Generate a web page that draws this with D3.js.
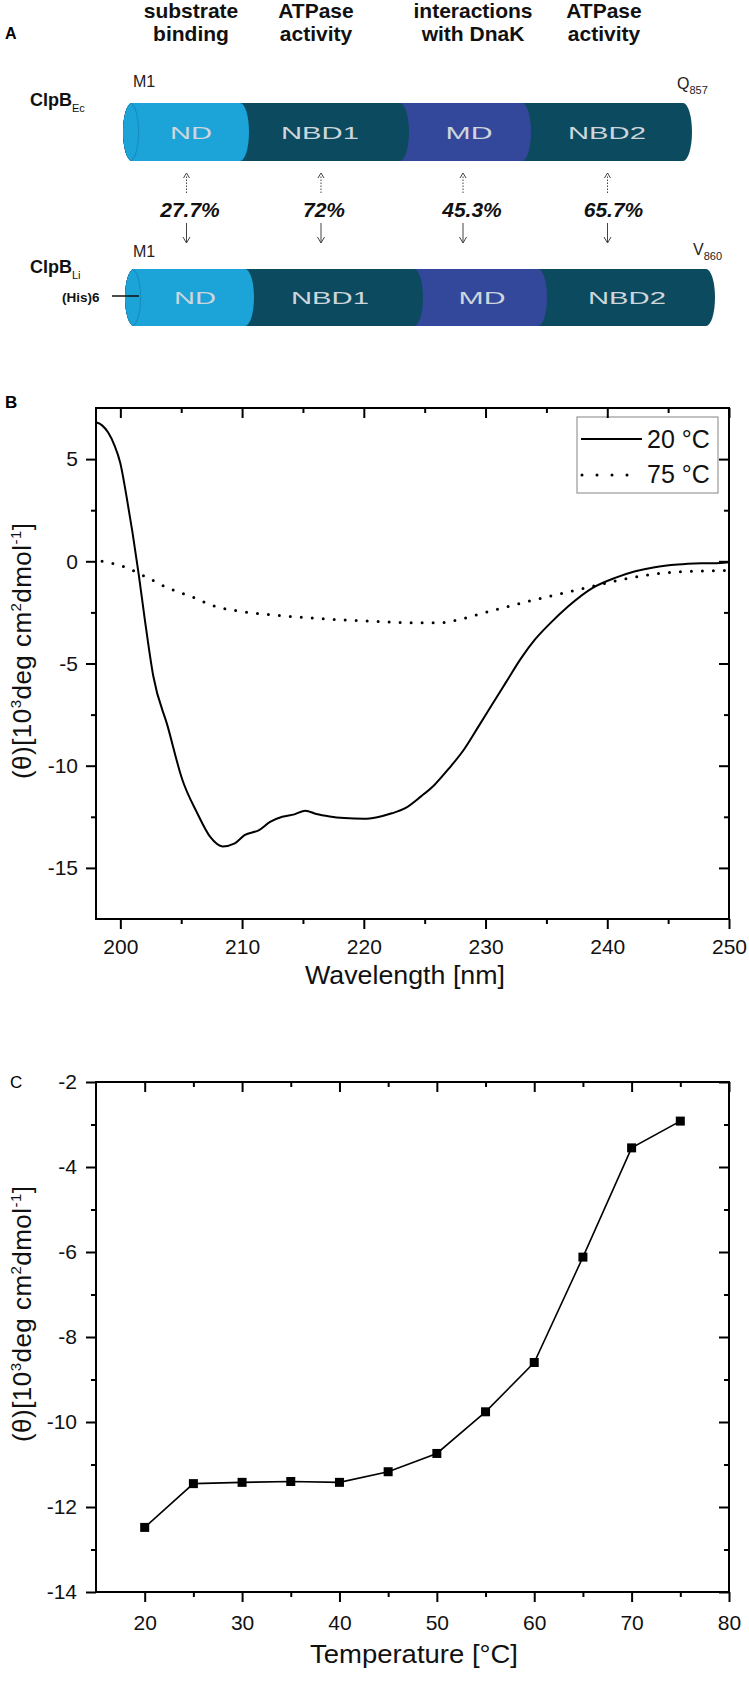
<!DOCTYPE html>
<html><head><meta charset="utf-8">
<script src="https://cdn.jsdelivr.net/npm/d3@7"></script>
<style>
body{margin:0;background:#fff}
svg{display:block}
text{font-family:"Liberation Sans",Arial,Helvetica,sans-serif}
</style>
</head><body>
<svg id="c" width="749" height="1684"></svg>
<script>
// ---------------- data ----------------
const functionLines = [["substrate","binding"],["ATPase","activity"],["interactions","with DnaK"],["ATPase","activity"]];
const domains = ["ND","NBD1","MD","NBD2"];
const identity = ["27.7%","72%","45.3%","65.7%"];
const proteinNames = ["ClpB","ClpB"];
const proteinSubs = ["Ec","Li"];
const startRes = ["M1","M1"];
const endRes = ["Q","V"];
const endNum = ["857","860"];
const tagLabel = "(His)6";

const wavelength20 = [198.0,198.5,199.0,199.5,200.0,200.5,201.0,201.5,202.0,202.7,203.9,205.1,206.3,207.4,208.4,209.4,210.2,211.4,212.3,213.3,214.3,215.2,216.1,217.2,218.4,220.0,221.1,222.3,223.4,224.7,225.8,227.0,228.2,229.4,230.5,231.7,232.9,234.1,235.2,236.8,238.8,240.7,242.3,243.9,245.8,247.8,249.3,250.0];
const theta20 = [6.8,6.65,6.3,5.7,4.8,3.2,1.4,-0.6,-2.8,-5.6,-8.1,-10.7,-12.3,-13.5,-13.95,-13.8,-13.4,-13.15,-12.75,-12.5,-12.38,-12.2,-12.36,-12.48,-12.56,-12.6,-12.52,-12.33,-12.08,-11.5,-10.94,-10.13,-9.23,-8.1,-7.04,-5.9,-4.76,-3.8,-3.1,-2.2,-1.3,-0.8,-0.49,-0.29,-0.16,-0.1,-0.08,-0.05];
const wavelength75 = [198.5,200.0,202.0,203.9,205.9,207.8,209.8,212.1,214.5,217.6,220.8,223.9,226.2,227.8,229.4,231.7,234.1,236.4,238.8,241.1,243.5,245.8,248.9,250.0];
const theta75 = [0.0,-0.2,-0.73,-1.3,-1.74,-2.2,-2.44,-2.6,-2.72,-2.85,-2.93,-3.01,-3.01,-2.85,-2.6,-2.23,-1.87,-1.55,-1.22,-0.9,-0.65,-0.52,-0.46,-0.44];
const seriesLabels = ["20 °C","75 °C"];

const temperature = [20,25,30,35,40,45,50,55,60,65,70,75];
const thetaT = [-12.48,-11.45,-11.42,-11.40,-11.42,-11.17,-10.74,-9.76,-8.60,-6.12,-3.55,-2.92];

const xTicksB = [200,210,220,230,240,250];
const xMinorB = [205,215,225,235,245];
const yTicksB = [5,0,-5,-10,-15];
const yMinorB = [2.5,-2.5,-7.5,-12.5];
const xTicksC = [20,30,40,50,60,70,80];
const xMinorC = [25,35,45,55,65,75];
const yTicksC = [-2,-4,-6,-8,-10,-12,-14];
const yMinorC = [-3,-5,-7,-9,-11,-13];

// ---------------- layout ----------------
const FONT = '"Liberation Sans",Arial,Helvetica,sans-serif';
const svg = d3.select("#c");
const darkC = "#0c4a5f", lightC = "#1ca3d8", midC = "#34489b";
const domainColors = [lightC, darkC, midC, darkC];

// ---- Panel A ----
svg.append("text").attr("x",5).attr("y",39).attr("font-size",16).attr("font-weight","bold").text("A");

const headerX = [191,316,473,604];
functionLines.forEach((lines,i)=>{
  const t = svg.append("text").attr("text-anchor","middle").attr("font-size",21).attr("font-weight","bold").attr("fill","#111");
  lines.forEach((ln,j)=>t.append("tspan").attr("x",headerX[i]).attr("y",18+j*23).text(ln));
});

function cylinder(left, right, bounds, top, bot, labelX, labelW) {
  const rx = 9, ry = (bot-top)/2;
  const edges = [left, ...bounds, right];
  const g = svg.append("g");
  for (let i = domains.length-1; i >= 0; i--) {
    const xe = edges[i+1];
    const p = `M${left},${top} L${xe},${top} A${rx},${ry} 0 0 1 ${xe},${bot} L${left},${bot} A${rx},${ry} 0 0 1 ${left},${top} Z`;
    g.append("path").attr("d",p).attr("fill",domainColors[i]);
  }
  g.append("path").attr("d",`M${left},${top+1} A${rx},${ry} 0 0 1 ${left},${bot-1}`)
    .attr("fill","none").attr("stroke","#168fbf").attr("stroke-width",1.2);
  domains.forEach((d,i)=>{
    g.append("text").attr("x",labelX[i]).attr("y",(top+bot)/2+6.5).attr("text-anchor","middle")
      .attr("font-size",17).attr("fill","#cdd6dc")
      .attr("textLength",labelW[i]).attr("lengthAdjust","spacingAndGlyphs").text(d);
  });
}
const labelW = [42,78,47,78];
cylinder(132, 683, [240,400,522], 103, 161, [191,320,469,607], labelW);
cylinder(134, 706, [245,414,538], 269, 326, [195,330,482,627], labelW);

// protein labels
[[106,113],[273,279]].forEach((yy,i)=>{
  const t = svg.append("text").attr("x",30).attr("y",yy[0]).attr("font-size",18).attr("font-weight","bold").attr("fill","#111");
  t.append("tspan").text(proteinNames[i]);
  t.append("tspan").attr("dy",6).attr("font-size",11).attr("font-weight","normal").text(proteinSubs[i]);
});
[87,257].forEach((yy,i)=>{
  svg.append("text").attr("x",133).attr("y",yy).attr("font-size",16).attr("fill","#222").text(startRes[i]);
});
[[677,89],[693,255]].forEach((p,i)=>{
  const t = svg.append("text").attr("x",p[0]).attr("y",p[1]).attr("font-size",16).attr("fill","#222");
  t.append("tspan").text(endRes[i]);
  t.append("tspan").attr("dy",5).attr("font-size",11).text(endNum[i]);
});
svg.append("text").attr("x",62).attr("y",302).attr("font-size",13.5).attr("font-weight","bold").attr("fill","#111").text(tagLabel);
svg.append("line").attr("x1",112).attr("x2",139).attr("y1",296).attr("y2",296).attr("stroke","#111").attr("stroke-width",1.5);

// identity arrows and values
const arrowX = [186.5,321,463,607.5];
const pctX = [190,324,472,613.5];
identity.forEach((v,i)=>{
  const x = arrowX[i];
  svg.append("line").attr("x1",x).attr("x2",x).attr("y1",193).attr("y2",175)
    .attr("stroke","#444").attr("stroke-width",1).attr("stroke-dasharray","1.5,1.5");
  svg.append("path").attr("d",`M${x-3},178 L${x},173 L${x+3},178`).attr("fill","none").attr("stroke","#444").attr("stroke-width",1);
  svg.append("line").attr("x1",x).attr("x2",x).attr("y1",223).attr("y2",243).attr("stroke","#444").attr("stroke-width",1);
  svg.append("path").attr("d",`M${x-3.5},237 L${x},243 L${x+3.5},237`).attr("fill","none").attr("stroke","#444").attr("stroke-width",1);
  svg.append("text").attr("x",pctX[i]).attr("y",217).attr("text-anchor","middle").attr("font-size",21)
    .attr("font-weight","bold").attr("font-style","italic").attr("fill","#111").text(v);
});

// ---------------- axes helper ----------------
function styleAx(s){
  s.attr("font-family",FONT).attr("font-size",21);
  s.select(".domain").remove();
  s.selectAll("line").attr("stroke","#000").attr("stroke-width",2);
  s.selectAll("text").attr("fill","#111");
}
function frameAxes(x, y, xMaj, xMin, yMaj, yMin, padB, padL) {
  const [x0,x1] = x.range(); const [y0,y1] = y.range();
  const fmt = d => String(d);
  const g = svg.append("g");
  g.append("g").attr("transform",`translate(0,${y0})`).call(d3.axisBottom(x).tickValues(xMaj).tickSize(10).tickPadding(padB).tickFormat(fmt)).call(styleAx);
  g.append("g").attr("transform",`translate(0,${y0})`).call(d3.axisBottom(x).tickValues(xMin).tickSize(5).tickFormat("")).call(styleAx);
  g.append("g").attr("transform",`translate(0,${y1})`).call(d3.axisBottom(x).tickValues(xMaj).tickSize(10).tickFormat("")).call(styleAx);
  g.append("g").attr("transform",`translate(0,${y1})`).call(d3.axisBottom(x).tickValues(xMin).tickSize(5).tickFormat("")).call(styleAx);
  g.append("g").attr("transform",`translate(${x0},0)`).call(d3.axisLeft(y).tickValues(yMaj).tickSize(10).tickPadding(padL).tickFormat(fmt)).call(styleAx);
  g.append("g").attr("transform",`translate(${x0},0)`).call(d3.axisLeft(y).tickValues(yMin).tickSize(5).tickFormat("")).call(styleAx);
  g.append("g").attr("transform",`translate(${x1},0)`).call(d3.axisLeft(y).tickValues(yMaj).tickSize(10).tickFormat("")).call(styleAx);
  g.append("g").attr("transform",`translate(${x1},0)`).call(d3.axisLeft(y).tickValues(yMin).tickSize(5).tickFormat("")).call(styleAx);
  g.append("rect").attr("x",x0).attr("y",y1).attr("width",x1-x0).attr("height",y0-y1)
    .attr("fill","none").attr("stroke","#000").attr("stroke-width",2);
}
function yTitle(bx, cy){
  const t = svg.append("text").attr("transform",`translate(${bx},${cy}) rotate(-90)`)
    .attr("text-anchor","middle").attr("font-size",26).attr("fill","#111")
    .attr("textLength",256).attr("lengthAdjust","spacing");
  t.append("tspan").text("(θ)[10");
  t.append("tspan").attr("dy",-10).attr("font-size",15).text("3");
  t.append("tspan").attr("dy",10).text("deg cm");
  t.append("tspan").attr("dy",-10).attr("font-size",15).text("2");
  t.append("tspan").attr("dy",10).text("dmol");
  t.append("tspan").attr("dy",-10).attr("font-size",15).text("-1");
  t.append("tspan").attr("dy",10).text("]");
}

// ---------------- Panel B ----------------
svg.append("text").attr("x",5).attr("y",408).attr("font-size",17).attr("font-weight","bold").text("B");
const xB = d3.scaleLinear().domain([198,250]).range([96,729]);
const yB = d3.scaleLinear().domain([-17.5,7.5]).range([919,408]);
svg.append("clipPath").attr("id","clipB").append("rect")
  .attr("x",96).attr("y",408).attr("width",633).attr("height",511);
const lineB = d3.line().x(d=>xB(d[0])).y(d=>yB(d[1])).curve(d3.curveMonotoneX);
svg.append("path").datum(d3.zip(wavelength20,theta20)).attr("d",lineB)
  .attr("fill","none").attr("stroke","#000").attr("stroke-width",2).attr("clip-path","url(#clipB)");
svg.append("path").datum(d3.zip(wavelength75,theta75)).attr("d",lineB)
  .attr("fill","none").attr("stroke","#000").attr("stroke-width",3).attr("stroke-linecap","round")
  .attr("stroke-dasharray","0,11").attr("clip-path","url(#clipB)");
// legend
svg.append("rect").attr("x",577).attr("y",417).attr("width",141).attr("height",76)
  .attr("fill","#fff").attr("stroke","#999").attr("stroke-width",1.2);
svg.append("line").attr("x1",581).attr("x2",642).attr("y1",439).attr("y2",439).attr("stroke","#000").attr("stroke-width",2);
svg.append("line").attr("x1",582).attr("x2",642).attr("y1",475).attr("y2",475).attr("stroke","#000").attr("stroke-width",3)
  .attr("stroke-linecap","round").attr("stroke-dasharray","0,15");
seriesLabels.forEach((s,i)=>{
  svg.append("text").attr("x",647).attr("y",[448,483][i]).attr("font-size",25).attr("fill","#111").text(s);
});
frameAxes(xB, yB, xTicksB, xMinorB, yTicksB, yMinorB, 10, 8);
svg.append("text").attr("x",405).attr("y",984).attr("text-anchor","middle").attr("font-size",26).attr("fill","#111")
  .attr("textLength",200).attr("lengthAdjust","spacingAndGlyphs").text("Wavelength [nm]");
yTitle(31, 651);

// ---------------- Panel C ----------------
svg.append("text").attr("x",10).attr("y",1088).attr("font-size",17).text("C");
const xC = d3.scaleLinear().domain([15,80]).range([96,729]);
const yC = d3.scaleLinear().domain([-14,-2]).range([1592,1082]);
const dataC = d3.zip(temperature, thetaT);
svg.append("path").datum(dataC).attr("d",d3.line().x(d=>xC(d[0])).y(d=>yC(d[1])))
  .attr("fill","none").attr("stroke","#000").attr("stroke-width",1.6);
svg.selectAll("rect.pt").data(dataC).join("rect").attr("class","pt")
  .attr("x",d=>xC(d[0])-4.5).attr("y",d=>yC(d[1])-4.5).attr("width",9).attr("height",9).attr("fill","#000");
frameAxes(xC, yC, xTicksC, xMinorC, yTicksC, yMinorC, 13, 9);
svg.append("text").attr("x",414).attr("y",1663).attr("text-anchor","middle").attr("font-size",26).attr("fill","#111")
  .attr("textLength",208).attr("lengthAdjust","spacingAndGlyphs").text("Temperature [°C]");
yTitle(31, 1314);
</script>
</body></html>
